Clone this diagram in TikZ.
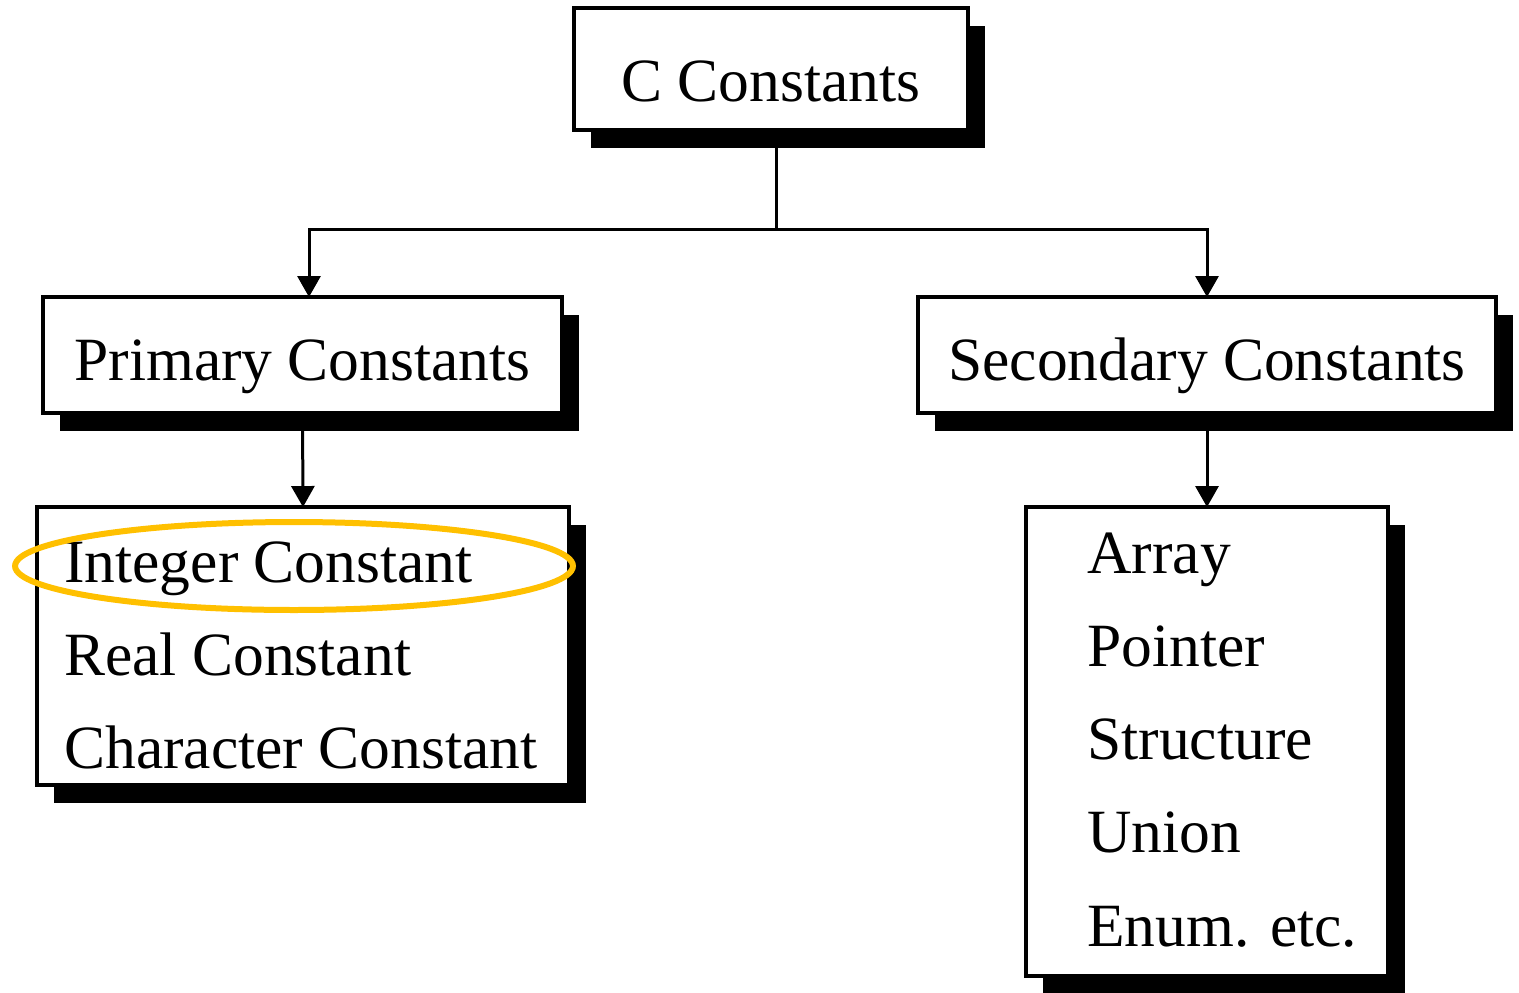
\documentclass[tikz,border=0pt]{standalone}
\usepackage{fontspec}
\setmainfont{Liberation Serif}
\usetikzlibrary{arrows.meta,shadows,shapes.geometric}
\definecolor{ringgold}{RGB}{255,192,0}

\begin{document}
\begin{tikzpicture}[x=0.02cm,y=-0.02cm,
    box/.style={draw,line width=0.08cm,fill=white,inner sep=0pt,outer sep=0pt,
      drop shadow={shadow xshift=0.34cm,shadow yshift=-0.36cm,fill=black,opacity=1},
      font=\fontsize{35}{40}\selectfont},
    item/.style={anchor=base west,inner sep=0pt,font=\fontsize{35}{40}\selectfont},
    hilite/.style={ellipse,draw=ringgold,line width=0.12cm,inner sep=0pt},
    conn/.style={line width=0.06cm},
    arr/.style={conn,-{Triangle[width=0.46cm,length=0.42cm]}}]
  \useasboundingbox (0,0) rectangle (1519,992);

  % boxes
  \node[box,minimum width=7.88cm,minimum height=2.44cm,text height=1.28cm,text depth=0pt]
    (top) at (771,69) {C Constants};
  \node[box,minimum width=10.38cm,minimum height=2.32cm,text height=1cm,text depth=0pt]
    (prim) at (302.5,355) {Primary Constants};
  \node[box,minimum width=11.56cm,minimum height=2.32cm,text height=1cm,text depth=0pt]
    (sec) at (1207,355) {Secondary Constants};
  \node[box,minimum width=10.64cm,minimum height=5.56cm] (plist) at (303,646) {};
  \node[box,minimum width=7.24cm,minimum height=9.38cm] (slist) at (1207,741.5) {};

  % list entries
  \node[item] (int)  at (64,582) {Integer Constant};
  \node[item] (real) at (64,675) {Real Constant};
  \node[item] (char) at (64,768) {Character Constant};

  \node[item] (arr)   at (1087,573) {Array};
  \node[item] (ptr)   at (1087,666) {Pointer};
  \node[item] (strct) at (1087,759) {Structure};
  \node[item] (uni)   at (1087,852) {Union};
  \node[item] (enm)   at (1087,946) {Enum. etc.};

  \node[hilite,minimum width=11.16cm,minimum height=1.76cm] (ring) at (294,566) {};

  % connectors
  \coordinate (split) at (776,229);
  \draw[conn] (top.south -| split) -- (split);
  \draw[arr] (split) -| ([xshift=0.13cm]prim.north);
  \draw[arr] (split) -| (sec.north);
  \draw[arr] (prim.south) -- (plist.north);
  \draw[arr] (sec.south) -- (slist.north);
\end{tikzpicture}
\end{document}
